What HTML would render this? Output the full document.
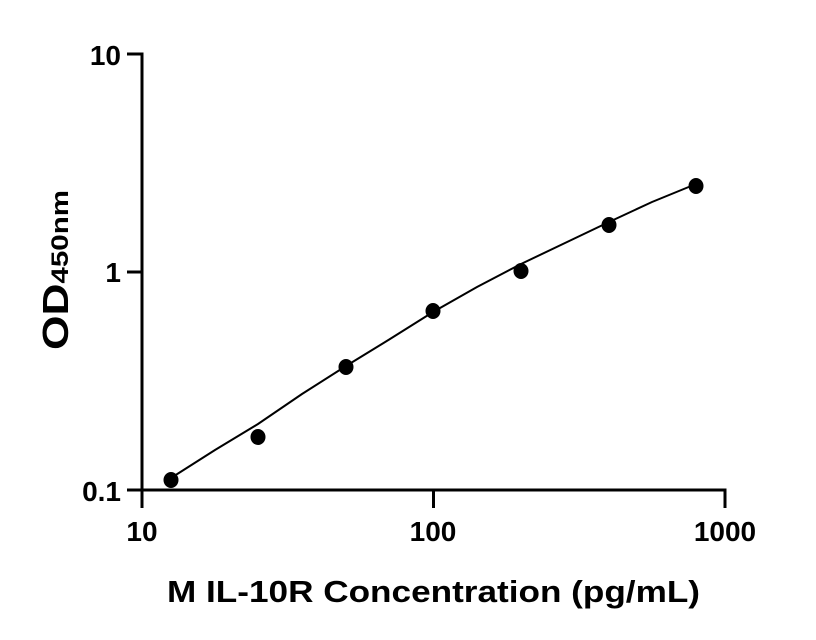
<!DOCTYPE html>
<html><head><style>body{margin:0;background:#fff}svg{display:block}</style></head><body>
<svg width="816" height="640" xmlns="http://www.w3.org/2000/svg" font-family="Liberation Sans, sans-serif" font-weight="bold">
<g stroke="#000" stroke-width="3" fill="none">
<line x1="142" y1="52.5" x2="142" y2="508"/>
<line x1="127" y1="490" x2="726" y2="490"/>
<line x1="127" y1="54" x2="143" y2="54"/>
<line x1="127" y1="272" x2="142" y2="272"/>
<line x1="433.5" y1="490" x2="433.5" y2="508"/>
<line x1="725" y1="488.5" x2="725" y2="508"/>
</g>
<polyline fill="none" stroke="#000" stroke-width="2" points="171,478 215,450 258,424 302,394 346,366 390,339 433,312 477,287 521,264 565,243 609,222 652,202 696,184"/>
<g fill="#000">
<ellipse cx="171" cy="480" rx="7.5" ry="8"/>
<ellipse cx="258" cy="437" rx="7.5" ry="8"/>
<ellipse cx="346" cy="367" rx="7.5" ry="8"/>
<ellipse cx="433" cy="311" rx="7.5" ry="8"/>
<ellipse cx="521" cy="271" rx="7.5" ry="8"/>
<ellipse cx="609" cy="225" rx="7.5" ry="8"/>
<ellipse cx="696" cy="186" rx="7.5" ry="8"/>
</g>
<g font-size="28" text-anchor="end">
<text x="121" y="65">10</text>
<text x="121" y="282">1</text>
<text x="121" y="501">0.1</text>
</g>
<g font-size="28" text-anchor="middle">
<text x="142" y="541">10</text>
<text x="433" y="541">100</text>
<text x="725" y="541">1000</text>
</g>
<text x="167" y="602" font-size="31" textLength="533" lengthAdjust="spacingAndGlyphs">M IL-10R Concentration (pg/mL)</text>
<text transform="translate(68,350) rotate(-90)" font-size="36" textLength="160" lengthAdjust="spacingAndGlyphs">OD<tspan font-size="24">450nm</tspan></text>
</svg>
</body></html>
